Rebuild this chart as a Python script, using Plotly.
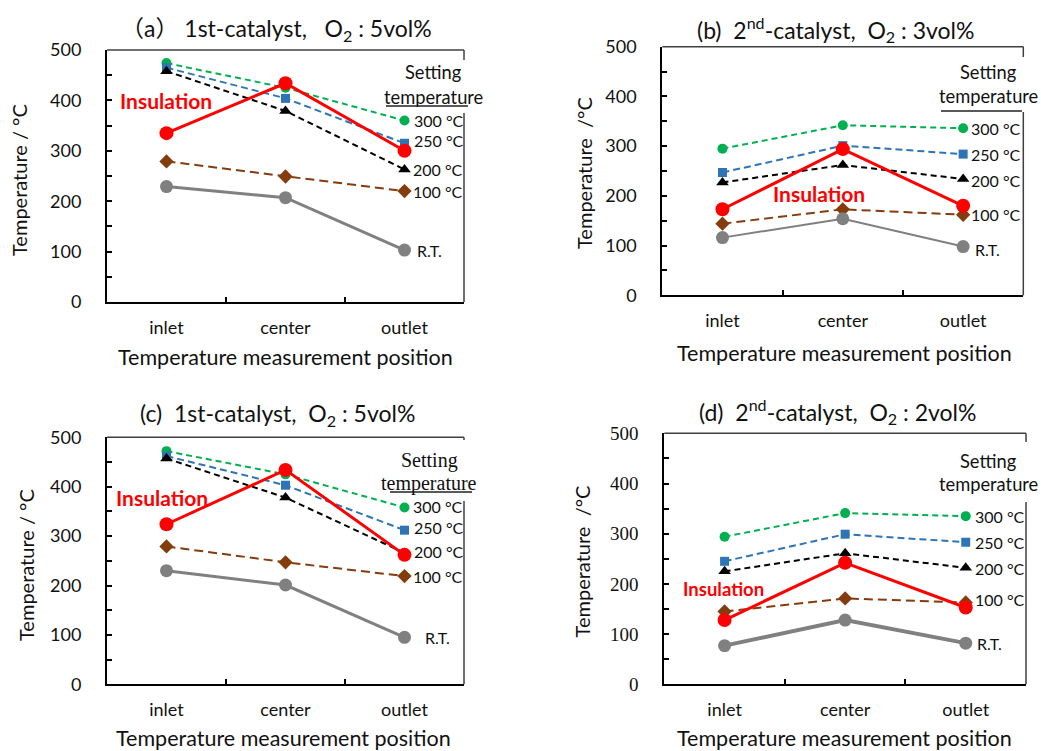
import plotly.graph_objects as go

# ---------------- data ----------------
positions = ["inlet", "center", "outlet"]
series_names = ["300 °C", "250 °C", "200 °C", "100 °C", "R.T.", "Insulation"]

a_300 = [474, 425, 360]
a_250 = [465, 404, 315]
a_200 = [458, 379, 263]
a_100 = [279, 249, 220]
a_rt = [229, 207, 103]
a_ins = [335, 434, 300]

b_300 = [295, 342, 336]
b_250 = [247, 301, 284]
b_200 = [227, 262, 234]
b_100 = [144, 173, 162]
b_rt = [116, 154, 98]
b_ins = [173, 294, 180]

c_300 = [472, 425, 358]
c_250 = [462, 403, 312]
c_200 = [457, 378, 266]
c_100 = [279, 247, 219]
c_rt = [230, 201, 95]
c_ins = [324, 434, 262]

d_300 = [294, 341, 335]
d_250 = [245, 299, 283]
d_200 = [225, 261, 232]
d_100 = [145, 171, 163]
d_rt = [77, 128, 82]
d_ins = [128, 242, 153]

y_ticks = [0, 100, 200, 300, 400, 500]

# ---------------- styles ----------------
W, H = 1041, 751
SANS = "Lato, 'Noto Sans', sans-serif"
SERIF = "'Liberation Serif', 'DejaVu Serif', serif"
CJK = "Lato, 'Noto Sans CJK JP', sans-serif"

styles = [
    dict(color="#00B050", symbol="circle", size=10, dash="6px,4px", width=2),
    dict(color="#2E75B6", symbol="square", size=9, dash="7px,4px", width=2),
    dict(color="#000000", symbol="triangle-up", size=11, dash="6px,4px", width=2),
    dict(color="#843C0C", symbol="diamond", size=11, dash="9px,5px", width=2),
    dict(color="#808080", symbol="circle", size=13, dash="solid", width=3),
    dict(color="#FF0000", symbol="circle", size=14, dash="solid", width=3),
]


def px(x):
    return x / W


def py(y):
    return 1 - y / H


panels = [
    dict(
        series=[a_300, a_250, a_200, a_100, a_rt, a_ins],
        box=(107, 464, 50, 302),
        title="（a） 1st-catalyst,   O<sub>2</sub> : 5vol%", title_xy=(276, 30),
        ytitle="Temperature / °C", ytitle_xy=(19, 180),
        xtitle_xy=(285, 357),
        lab_dx=[7, 7, 6, 6, 10], lab_dy=[0, 3, 0, 0, 0],
        ins_xy=(166, 100), ins_size=21,
        set_xy=(433, 72, 97), set_font=SANS, underline=(386, 468, 106),
        gap=(60, 113), ytick_font=SANS, rt_width=3,
    ),
    dict(
        series=[b_300, b_250, b_200, b_100, b_rt, b_ins],
        box=(662.3, 1023.3, 46.7, 295.3),
        title="(b)  2<sup>nd</sup>-catalyst,  O<sub>2</sub> : 3vol%", title_xy=(835, 30),
        ytitle="Temperature  /°C", ytitle_xy=(583.5, 173.5),
        xtitle_xy=(844, 353),
        lab_dx=[6, 6, 6, 6, 10], lab_dy=[0, 0, -2, 0, -3],
        ins_xy=(819, 193), ins_size=21,
        set_xy=(988, 72, 96), set_font=SANS, underline=(941, 1022, 111),
        gap=(57, 112), ytick_font=SANS, rt_width=2,
    ),
    dict(
        series=[c_300, c_250, c_200, c_100, c_rt, c_ins],
        box=(107, 464, 437.3, 684.3),
        title="(c)  1st-catalyst,  O<sub>2</sub> : 5vol%", title_xy=(277, 414),
        ytitle="Temperature / °C", ytitle_xy=(26, 565),
        xtitle_xy=(283, 738),
        lab_dx=[6, 7, 7, 6, 18], lab_dy=[1, 3, 1, 0, 0],
        ins_xy=(162, 497), ins_size=21,
        set_xy=(429, 460, 483), set_font=SERIF, underline=(390, 472, 492),
        gap=(440, 501), ytick_font=SANS, rt_width=3,
    ),
    dict(
        series=[d_300, d_250, d_200, d_100, d_rt, d_ins],
        box=(664.3, 1026, 433.3, 684.3),
        title="(d)  2<sup>nd</sup>-catalyst,  O<sub>2</sub> : 2vol%", title_xy=(837.5, 411),
        ytitle="Temperature  /°C", ytitle_xy=(581.7, 561.7),
        xtitle_xy=(844, 738),
        lab_dx=[7, 7, 7, 7, 9], lab_dy=[0, 0, -1, 3, 0],
        ins_xy=(723, 589), ins_size=18.5,
        set_xy=(988, 461, 484), set_font=SANS, underline=None,
        gap=(442, 502), ytick_font=SERIF, rt_width=4,
    ),
]

fig = go.Figure()
layout = dict(
    width=W, height=H,
    margin=dict(l=0, r=0, t=0, b=0, pad=0, autoexpand=False),
    paper_bgcolor="white", plot_bgcolor="white",
    showlegend=False,
)
annotations = []
shapes = []

for i, p in enumerate(panels):
    n = "" if i == 0 else str(i + 1)
    xa, ya = "x" + n, "y" + n
    x0, x1, y0, y1 = p["box"]

    for k, (vals, st) in enumerate(zip(p["series"], styles)):
        lw = st["width"]
        if k == 4:
            lw = p["rt_width"]
        fig.add_trace(go.Scatter(
            x=positions, y=vals, xaxis=xa, yaxis=ya,
            mode="lines+markers", name=series_names[k],
            line=dict(color=st["color"], width=lw, dash=st["dash"]),
            marker=dict(color=st["color"], symbol=st["symbol"], size=st["size"],
                        line=dict(width=0)),
            cliponaxis=False,
        ))

    layout["xaxis" + n] = dict(
        domain=[px(x0), px(x1)], anchor=ya,
        type="category", categoryorder="array", categoryarray=positions,
        range=[-0.5, 2.5], tickson="boundaries",
        ticks="inside", ticklen=5, tickwidth=1.5, tickcolor="black",
        showline=True, linecolor="black", linewidth=2,
        showgrid=False, zeroline=False,
        tickfont=dict(family=SANS, size=18, color="#111"),
        ticklabelstandoff=8,
        automargin=False,
        fixedrange=True,
    )
    layout["yaxis" + n] = dict(
        domain=[py(y1), py(y0)], anchor=xa,
        range=[0, 500], tickmode="array", tickvals=y_ticks,
        ticks="inside", ticklen=5, tickwidth=1.5, tickcolor="black",
        minor=dict(ticks="inside", dtick=50, ticklen=5, tickwidth=1.5, tickcolor="black", showgrid=False),
        showline=True, linecolor="black", linewidth=2,
        showgrid=False, zeroline=False,
        tickfont=dict(family=p["ytick_font"], size=18 if p["ytick_font"] == SANS else 19, color="#111"),
        ticklabelstandoff=20,
        automargin=False,
        fixedrange=True,
    )

    # top border and right border (with gap behind the "Setting temperature" label)
    shapes.append(dict(type="line", xref="paper", yref="paper",
                       x0=px(x0), x1=px(x1), y0=py(y0), y1=py(y0),
                       line=dict(color="#404040", width=1.5)))
    g0, g1 = p["gap"]
    shapes.append(dict(type="line", xref="paper", yref="paper",
                       x0=px(x1), x1=px(x1), y0=py(y0), y1=py(g0),
                       line=dict(color="#404040", width=1.5)))
    shapes.append(dict(type="line", xref="paper", yref="paper",
                       x0=px(x1), x1=px(x1), y0=py(g1), y1=py(y1),
                       line=dict(color="#404040", width=1.5)))
    if p["underline"]:
        u0, u1, uy = p["underline"]
        shapes.append(dict(type="line", xref="paper", yref="paper",
                           x0=px(u0), x1=px(u1), y0=py(uy), y1=py(uy),
                           line=dict(color="#222", width=1.5)))

    # title
    tx, ty = p["title_xy"]
    annotations.append(dict(text=p["title"], x=px(tx), y=py(ty), xref="paper", yref="paper",
                            xanchor="center", yanchor="middle", showarrow=False,
                            font=dict(family=CJK, size=23, color="#111")))
    # y title
    yx, yy = p["ytitle_xy"]
    annotations.append(dict(text=p["ytitle"], x=px(yx), y=py(yy), xref="paper", yref="paper",
                            xanchor="center", yanchor="middle", showarrow=False, textangle=-90,
                            font=dict(family=SANS, size=20, color="#111")))
    # x title
    xx, xy = p["xtitle_xy"]
    annotations.append(dict(text="Temperature measurement position", x=px(xx), y=py(xy),
                            xref="paper", yref="paper", xanchor="center", yanchor="middle",
                            showarrow=False, font=dict(family=SANS, size=21.5, color="#111")))
    # series labels at outlet
    for k in range(5):
        annotations.append(dict(text=series_names[k], x=positions[2], y=p["series"][k][2],
                                xref=xa, yref=ya, xanchor="left", yanchor="middle",
                                xshift=p["lab_dx"][k], yshift=p["lab_dy"][k], showarrow=False,
                                font=dict(family=SANS, size=16, color="#111")))
    # Insulation
    ix, iy = p["ins_xy"]
    annotations.append(dict(text="<b>Insulation</b>", x=px(ix), y=py(iy), xref="paper", yref="paper",
                            xanchor="center", yanchor="middle", showarrow=False,
                            font=dict(family=SANS, size=p["ins_size"], color="#FF0000")))
    # Setting temperature
    sx, sy1, sy2 = p["set_xy"]
    sfs = 18.3 if p["set_font"] == SANS else 20
    annotations.append(dict(text="Setting", x=px(sx), y=py(sy1), xref="paper", yref="paper",
                            xanchor="center", yanchor="middle", showarrow=False,
                            font=dict(family=p["set_font"], size=sfs, color="#111")))
    annotations.append(dict(text="temperature", x=px(sx), y=py(sy2), xref="paper", yref="paper",
                            xanchor="center", yanchor="middle", showarrow=False,
                            font=dict(family=p["set_font"], size=sfs, color="#111")))

layout["annotations"] = annotations
layout["shapes"] = shapes
fig.update_layout(**layout)
fig.write_html("out.html",
               config={"displayModeBar": False},
               post_script="document.body.style.margin='0px';document.documentElement.style.overflow='hidden';")
